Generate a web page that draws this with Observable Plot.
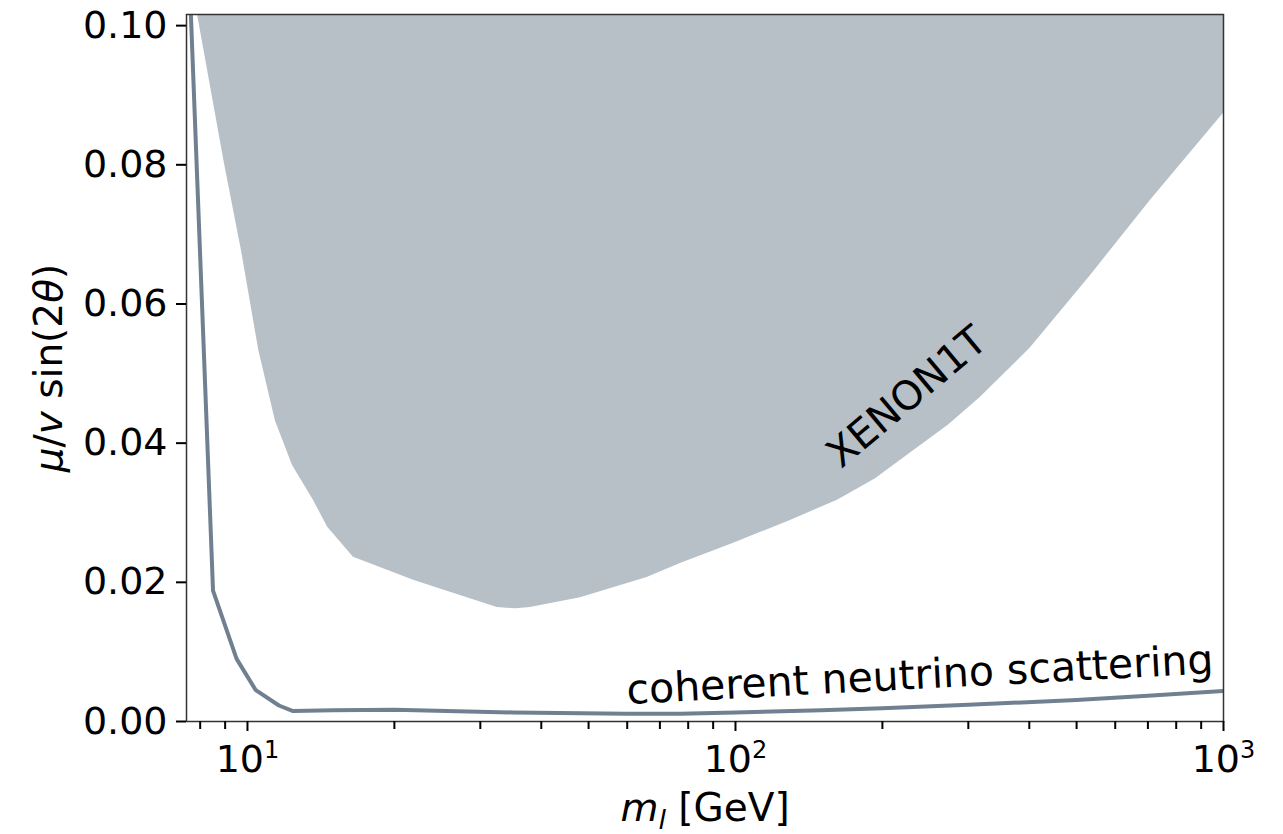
<!DOCTYPE html>
<html>
<head>
<meta charset="utf-8">
<script src="https://cdn.jsdelivr.net/npm/d3@7"></script>
<script src="https://cdn.jsdelivr.net/npm/@observablehq/plot@0.6"></script>
<style>
  html, body { margin: 0; padding: 0; background: #fff; }
  #chart { width: 1283px; height: 834px; }
</style>
</head>
<body>
<div id="chart"></div>
<script>
// ---- data ----
// coherent neutrino scattering limit (line)
const cohMass = [7.5, 8.5, 9.5, 10.4, 11.6, 12.4, 15, 20, 35, 60, 77, 100, 150, 200, 300, 500, 700, 1000];
const cohLimit = [0.118, 0.0188, 0.009, 0.0045, 0.0023, 0.0015, 0.0016, 0.0017, 0.0013, 0.0011, 0.0011, 0.0013, 0.0016, 0.0019, 0.0024, 0.0031, 0.0037, 0.0044];

// XENON1T excluded region (lower boundary)
const xenonMass = [7.9, 8.97, 9.72, 10.55, 11.41, 12.37, 13.65, 14.6, 16.49, 21.9, 27.3, 32.5, 35.4, 38.0, 48.1, 65.9, 77.1, 99.1, 129.6, 161.8, 193.6, 231.6, 273.3, 317.7, 402.3, 534, 708.7, 1000];
const xenonLimit = [0.1016, 0.0802, 0.0677, 0.0533, 0.0432, 0.0368, 0.0318, 0.0279, 0.0236, 0.0203, 0.0181, 0.0164, 0.0162, 0.0164, 0.0178, 0.0207, 0.0227, 0.0256, 0.0289, 0.0318, 0.0349, 0.0389, 0.0426, 0.0466, 0.0537, 0.0641, 0.0749, 0.0874];
const xenonTop = 0.12;

// axes
const xDomain = [7.5, 1000];
const yDomain = [0, 0.1016];
const xMajorTicks = [10, 100, 1000];
const xMinorTicks = [8, 9, 20, 30, 40, 50, 60, 70, 80, 90, 200, 300, 400, 500, 600, 700, 800, 900];
const yTicks = [0, 0.02, 0.04, 0.06, 0.08, 0.10];

// annotations
const annoText = ["XENON1T", "coherent neutrino scattering"];
const annoMass = [224.6, 238.8];
const annoValue = [0.0466, 0.0066];
const annoAngle = [-40, -3];

// ---- build tables ----
const coh = cohMass.map((m, i) => ({m, v: cohLimit[i]}));
const xenon = xenonMass.map((m, i) => ({m, v: xenonLimit[i], top: xenonTop}));
const annos = annoText.map((t, i) => ({t, m: annoMass[i], v: annoValue[i], a: annoAngle[i], fs: i === 0 ? 40 : 41}));

const fillColor = "#708090";

const chart = Plot.plot({
  width: 1283,
  height: 834,
  marginLeft: 186,
  marginRight: 60,
  marginTop: 14,
  marginBottom: 113,
  style: {fontFamily: "DejaVu Sans", fontSize: "38px", color: "#000", background: "#fff"},
  x: {type: "log", domain: xDomain},
  y: {domain: yDomain},
  marks: [
    Plot.areaY(xenon, {x: "m", y1: "v", y2: "top", fill: fillColor, fillOpacity: 0.5, clip: true}),
    Plot.line(coh, {x: "m", y: "v", stroke: fillColor, strokeWidth: 4, clip: true}),
    Plot.text(annos, {x: "m", y: "v", text: "t", rotate: "a", fontSize: "fs", fill: "#000"}),
    Plot.frame({stroke: "#333", strokeWidth: 1.5}),
    Plot.axisY({ticks: yTicks, tickFormat: d3.format(".2f"), tickSize: 10, tickPadding: 9, strokeWidth: 2, label: null, fontSize: 38}),
    Plot.axisX({ticks: xMajorTicks, tickFormat: d => "10^" + Math.round(Math.log10(d)), tickSize: 10, tickPadding: 14, strokeWidth: 2, label: null, fontSize: 38}),
    Plot.axisX({ticks: xMinorTicks, tickFormat: () => "", tickSize: 8, strokeWidth: 2, label: null}),
    Plot.text(["YLABEL"], {frameAnchor: "left", dx: -137, rotate: -90, textAnchor: "middle", lineAnchor: "middle", text: d => d, fontSize: 39}),
    Plot.text(["XLABEL"], {frameAnchor: "bottom", dy: 87, textAnchor: "middle", lineAnchor: "middle", text: d => d, fontSize: 39})
  ]
});

document.getElementById("chart").appendChild(chart);

// ---- rich text post-processing (italics, super/subscripts) ----
const NS = "http://www.w3.org/2000/svg";
function span(txt, attrs) {
  const s = document.createElementNS(NS, "tspan");
  s.textContent = txt;
  for (const k in (attrs || {})) s.setAttribute(k, attrs[k]);
  return s;
}
chart.querySelectorAll("text").forEach(t => {
  const c = t.textContent;
  if (/^10\^\d$/.test(c)) {
    const e = c.slice(3);
    t.textContent = "";
    t.appendChild(span("10"));
    t.appendChild(span(e, {"font-size": "24px", dy: "-14px"}));
  } else if (c === "YLABEL") {
    t.textContent = "";
    t.appendChild(span("\u03bc", {"font-style": "italic"}));
    t.appendChild(span("/"));
    t.appendChild(span("v", {"font-style": "italic"}));
    t.appendChild(span(" sin(2"));
    t.appendChild(span("\u03b8", {"font-style": "italic"}));
    t.appendChild(span(")"));
  } else if (c === "XLABEL") {
    t.textContent = "";
    t.appendChild(span("m", {"font-style": "italic"}));
    t.appendChild(span("l", {"font-style": "italic", "font-size": "27px", dy: "8px"}));
    t.appendChild(span(" [GeV]", {dy: "-8px"}));
  }
});
</script>
</body>
</html>
